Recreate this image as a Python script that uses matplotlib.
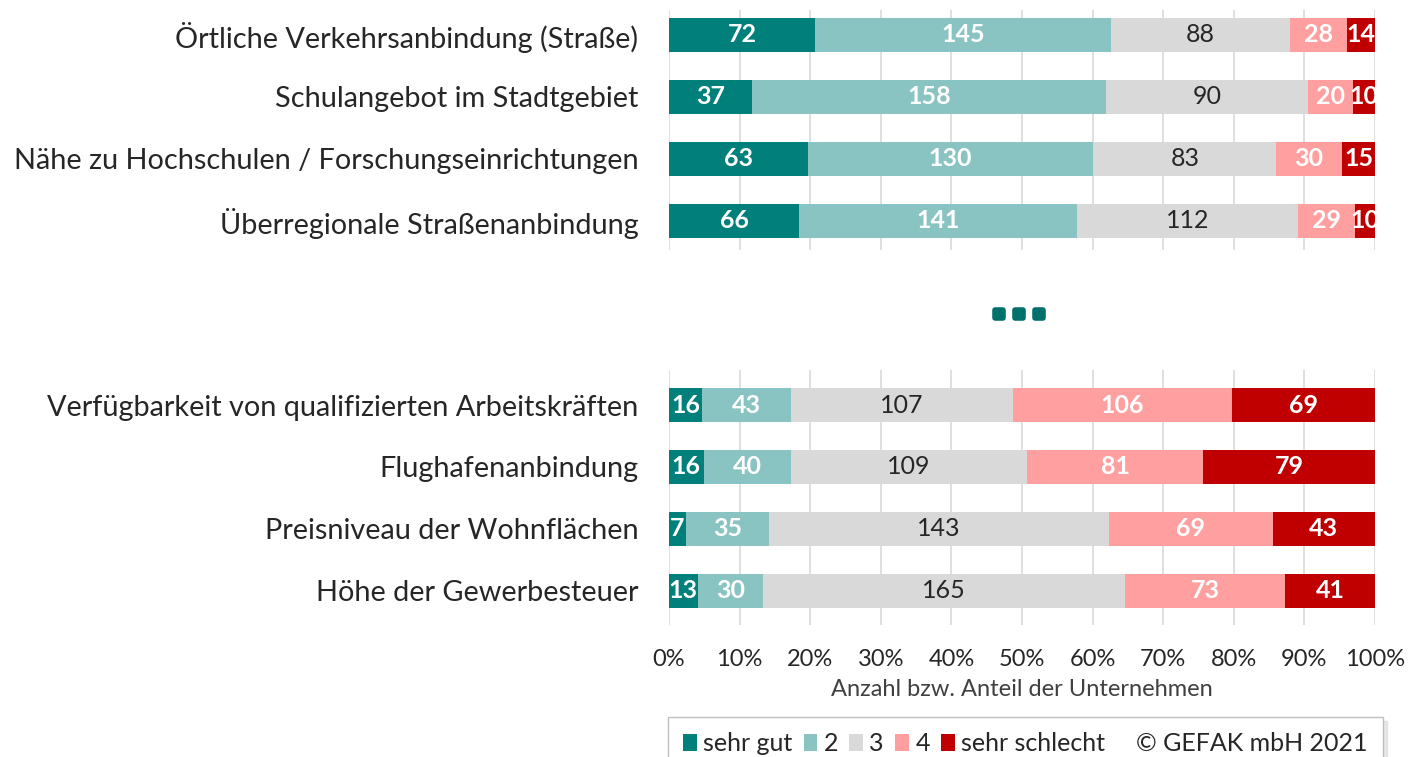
import matplotlib
matplotlib.use("Agg")
import matplotlib.pyplot as plt
from matplotlib.patches import Patch
from matplotlib.lines import Line2D
from matplotlib.markers import MarkerStyle
import numpy as np

plt.rcParams['font.family'] = ['Lato', 'DejaVu Sans']

# Daten: Anzahl Unternehmen je Bewertung
kategorien_oben = ['Örtliche Verkehrsanbindung (Straße)',
                   'Schulangebot im Stadtgebiet',
                   'Nähe zu Hochschulen / Forschungseinrichtungen',
                   'Überregionale Straßenanbindung']
werte_oben = np.array([[72, 145, 88, 28, 14],
                       [37, 158, 90, 20, 10],
                       [63, 130, 83, 30, 15],
                       [66, 141, 112, 29, 10]])

kategorien_unten = ['Verfügbarkeit von qualifizierten Arbeitskräften',
                    'Flughafenanbindung',
                    'Preisniveau der Wohnflächen',
                    'Höhe der Gewerbesteuer']
werte_unten = np.array([[16, 43, 107, 106, 69],
                        [16, 40, 109, 81, 79],
                        [7, 35, 143, 69, 43],
                        [13, 30, 165, 73, 41]])

bewertungen = ['sehr gut', '2', '3', '4', 'sehr schlecht']
farben = ['#007F7B', '#8AC4C2', '#D9D9D9', '#FF9F9F', '#C00000']
textfarben = ['white', 'white', '#262626', 'white', 'white']
x_ticks = [0, 10, 20, 30, 40, 50, 60, 70, 80, 90, 100]
copyright = '© GEFAK mbH 2021'

W, H = 1412, 757
fig = plt.figure(figsize=(W / 100, H / 100), dpi=100)
ax_oben = fig.add_axes([669 / W, 1 - 250 / H, 706 / W, 240 / H])
ax_unten = fig.add_axes([669 / W, 1 - 625 / H, 706 / W, 255 / H])


def zeichne(ax, kategorien, werte):
    anteile = werte / werte.sum(axis=1, keepdims=True) * 100
    y = np.arange(len(kategorien))
    links = np.zeros(len(kategorien))
    for i, name in enumerate(bewertungen):
        bars = ax.barh(y, anteile[:, i], left=links, height=0.55,
                       color=farben[i], label=name, zorder=2)
        gewicht = 'normal' if textfarben[i] != 'white' else 'bold'
        ax.bar_label(bars, labels=[str(v) for v in werte[:, i]],
                     label_type='center', color=textfarben[i],
                     fontsize=18, fontweight=gewicht)
        links += anteile[:, i]
    ax.set_xlim(0, 100)
    ax.set_yticks(y)
    ax.set_yticklabels(kategorien, fontsize=20.8, color='#262626')
    ax.tick_params(axis='y', length=0, pad=22)
    ax.set_xticks(x_ticks)
    ax.grid(axis='x', color='#D9D9D9', linewidth=1.2, zorder=0)
    ax.set_axisbelow(True)
    for s in ax.spines.values():
        s.set_visible(False)


zeichne(ax_oben, kategorien_oben, werte_oben)
zeichne(ax_unten, kategorien_unten, werte_unten)

ax_oben.set_ylim(3.47, -0.40)
ax_unten.set_ylim(3.55, -0.565)

ax_oben.tick_params(axis='x', length=0, labelbottom=False)
ax_unten.tick_params(axis='x', length=0, pad=17, labelsize=17, labelcolor='#262626')
ax_unten.set_xticklabels([f'{t}%' for t in x_ticks])
ax_unten.set_xlabel('Anzahl bzw. Anteil der Unternehmen', fontsize=17,
                    color='#404040', labelpad=7)

# Auslassungspunkte zwischen den beiden Teilen
punkt = MarkerStyle('s', joinstyle='round')
fig.add_artist(Line2D([999 / W, 1019 / W, 1039 / W], [1 - 314 / H] * 3,
                      transform=fig.transFigure, linestyle='none', marker=punkt,
                      markersize=6, color='#00706C', markeredgewidth=4,
                      markeredgecolor='#00706C'))

# Legende mit Copyright
handles, labels = ax_unten.get_legend_handles_labels()
handles.append(Patch(facecolor='none', edgecolor='none'))
labels.append(copyright)
leg = fig.legend(handles, labels, loc='upper left',
                 bbox_to_anchor=(668 / W, 0, 715 / W, 1 - 717 / H),
                 mode='expand', ncol=6, fontsize=18, frameon=True,
                 fancybox=False, edgecolor='#BFBFBF', handlelength=0.55,
                 handleheight=0.65, handletextpad=0.25, columnspacing=0.8,
                 borderpad=0.6, borderaxespad=0,
                 shadow={'color': '#D0D0D0', 'ox': 3, 'oy': -3})
for t in leg.get_texts():
    t.set_color('#262626')

fig.savefig('out.png', dpi=100)
